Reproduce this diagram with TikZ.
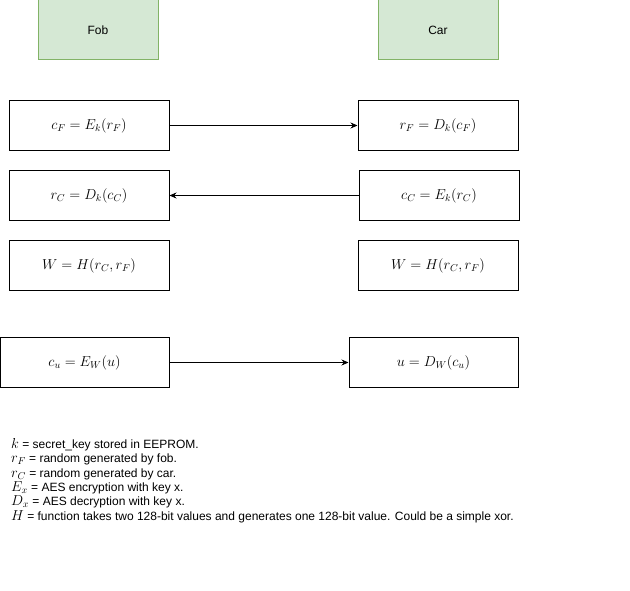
\documentclass[tikz,border=0pt]{standalone}
\usepackage{fontspec}
\setmainfont{Latin Modern Roman}
\newfontfamily\arial{Liberation Sans}
\usetikzlibrary{arrows.meta}
\definecolor{gfill}{HTML}{D5E8D4}
\definecolor{gdraw}{HTML}{82B366}
\newcommand{\lm}[1]{{\fontsize{14.6}{14.4}\selectfont$#1$}}
\begin{document}
\begin{tikzpicture}[x=1pt,y=-1pt,
  hdr/.style={draw=gdraw,fill=gfill,line width=1pt,minimum width=120pt,minimum height=60pt,inner sep=0pt,font=\arial\fontsize{12}{14}\selectfont},
  eqbox/.style={draw,line width=1pt,minimum width=160pt,minimum height=50pt,inner sep=0pt,font=\fontsize{14.6}{16}\selectfont},
  wbox/.style={draw,line width=1pt,minimum width=169pt,minimum height=50pt,inner sep=0pt,font=\fontsize{14.6}{16}\selectfont},
  conn/.style={line width=0.8pt,-{Stealth[length=7pt,width=6pt]}}]
\useasboundingbox (0,0) rectangle (630,591);
\node[hdr] (fob) at (98,30) {Fob};
\node[hdr] (car) at (438,30) {Car};
\node[eqbox] (cf) at (89,125.5) {$c_F = E_k(r_F)$};
\node[eqbox] (rf) at (438,125.5) {$r_F = D_k(c_F)$};
\node[eqbox] (rc) at (89,195.5) {$r_C = D_k(c_C)$};
\node[eqbox] (cc) at (439,195.5) {$c_C = E_k(r_C)$};
\node[eqbox] (wl) at (89,265.5) {$W = H(r_C, r_F)$};
\node[eqbox] (wr) at (438,265.5) {$W = H(r_C, r_F)$};
\node[wbox] (cu) at (84.5,362.5) {$c_u = E_W(u)$};
\node[wbox] (u) at (433.5,362.5) {$u = D_W(c_u)$};
\draw[conn] (cf) -- (rf);
\draw[conn] (cc) -- (rc);
\draw[conn] (cu) -- (u);
\node[anchor=north west,inner sep=0pt,align=left,font=\arial\fontsize{12}{14.4}\selectfont] (legend) at (11,438) {%
\lm{k} = secret\_key stored in EEPROM.\\
\lm{r_F} = random generated by fob.\\
\lm{r_C} = random generated by car.\\
\lm{E_x} = AES encryption with key x.\\
\lm{D_x} = AES decryption with key x.\\
\lm{H} = function takes two 128-bit values and generates one 128-bit value. Could be a simple xor.};
\end{tikzpicture}
\end{document}
